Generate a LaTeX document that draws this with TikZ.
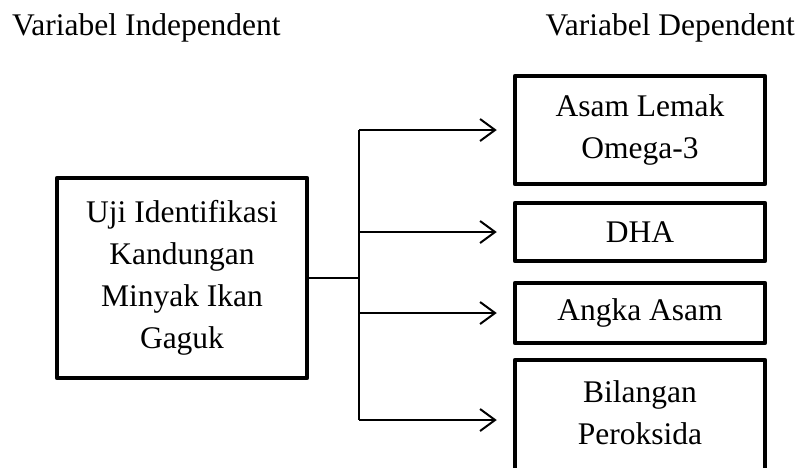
\documentclass[tikz,border=0pt]{standalone}
\usepackage{fontspec}
\setmainfont{Liberation Serif}
\usetikzlibrary{arrows.meta}
\begin{document}
\begin{tikzpicture}[x=1pt,y=-1pt,
  txt/.style={font=\fontsize{31.5}{42}\selectfont, inner sep=0pt},
  varbox/.style={draw, line width=4.5pt, line join=round, minimum width=250pt, align=center, inner sep=0pt, font=\fontsize{31.5}{42}\selectfont},
  conn/.style={line width=2pt},
  arr/.style={conn, -{Straight Barb[length=15pt,width=22pt,line width=2pt]}, shorten >=16pt}
]
\useasboundingbox (0,0) rectangle (800,467);
\node[txt, anchor=base west] (hi) at (12,35) {Variabel Independent};
\node[txt, anchor=base east] (hd) at (795,35) {Variabel Dependent};

\node[varbox, minimum height=200pt] (L) at (182,278) {Uji Identifikasi\\Kandungan\\Minyak Ikan\\Gaguk};
\node[varbox, minimum height=108pt] (B1) at (640,130) {Asam Lemak\\Omega-3};
\node[varbox, minimum height=58pt] (B2) at (640,232) {DHA};
\node[varbox, minimum height=60pt] (B3) at (640,313) {Angka Asam};
\node[varbox, minimum height=120pt, text depth=15pt] (B4) at (640,420) {Bilangan\\Peroksida};

\draw[conn] (L.east) -- (359,278) coordinate (j);
\coordinate (jt) at (j |- B1.west);
\coordinate (jb) at (j |- B4.west);
\draw[conn] (jt) -- (jb);
\draw[arr] (jt) -- (B1.west);
\draw[arr] (j |- B2.west) -- (B2.west);
\draw[arr] (j |- B3.west) -- (B3.west);
\draw[arr] (jb) -- (B4.west);
\end{tikzpicture}
\end{document}
